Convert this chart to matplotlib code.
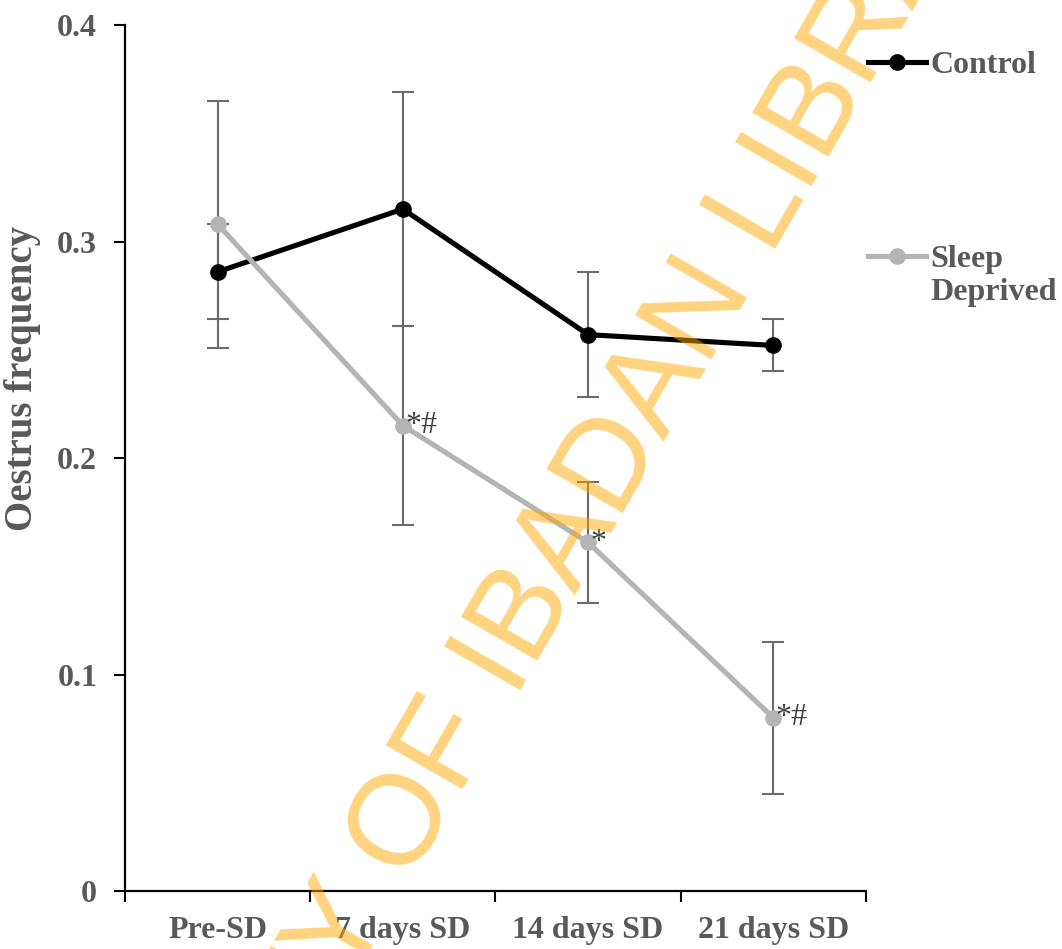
import matplotlib
matplotlib.use("Agg")
import matplotlib.pyplot as plt
import numpy as np

# oestrus frequency (mean +/- SEM) per period
periods = ["Pre-SD", "7 days SD", "14 days SD", "21 days SD"]
control_mean = [0.286, 0.315, 0.257, 0.252]
control_err = [0.022, 0.054, 0.029, 0.012]
sleep_mean = [0.308, 0.215, 0.161, 0.080]
sleep_err = [0.057, 0.046, 0.028, 0.035]
sleep_marks = ["", "*#", "*", "*#"]

y_ticks = [0, 0.1, 0.2, 0.3, 0.4]
y_tick_labels = ["0", "0.1", "0.2", "0.3", "0.4"]

serif = "Liberation Serif"
text_grey = "#595959"
bar_grey = "#6b6b6b"

plt.rcParams["font.family"] = serif

fig = plt.figure(figsize=(10.62, 9.49), dpi=100)
ax = fig.add_axes([0.1177, 0.0611, 0.6977, 0.9125])

x = np.arange(len(periods))

ax.errorbar(x, control_mean, yerr=control_err, fmt="none", ecolor=bar_grey,
            elinewidth=1.5, capsize=8, capthick=1.5, zorder=2)
ax.errorbar(x, sleep_mean, yerr=sleep_err, fmt="none", ecolor=bar_grey,
            elinewidth=1.5, capsize=8, capthick=1.5, zorder=2)

ctrl_line, = ax.plot(x, control_mean, color="black", lw=3.7, marker="o",
                     markersize=11, zorder=3, label="Control")
sleep_line, = ax.plot(x, sleep_mean, color="#b4b4b4", lw=3.7, marker="o",
                      markersize=11, zorder=4, label="Sleep")

for xi, yi, mark in zip(x, sleep_mean, sleep_marks):
    if mark:
        ax.annotate(mark, xy=(xi, yi), xytext=(1.5, 0), textcoords="offset points",
                    ha="left", va="center", fontsize=23, color="#404040",
                    family=serif, zorder=5)

ax.set_xlim(-0.5, 3.5)
ax.set_ylim(0, 0.4)

ax.set_xticks(np.arange(len(periods) + 1) - 0.5)
ax.set_xticklabels([])
ax.set_xticks(x, minor=True)
ax.set_xticklabels(periods, minor=True, fontsize=23, fontweight="bold", color=text_grey)
ax.tick_params(axis="x", which="major", direction="out", length=8, width=1.5)
ax.tick_params(axis="x", which="minor", length=0, pad=18)

ax.set_yticks(y_ticks)
ax.set_yticklabels(y_tick_labels, fontsize=23, fontweight="bold", color=text_grey)
ax.tick_params(axis="y", direction="out", length=8, width=1.5, pad=12)

for side in ["top", "right"]:
    ax.spines[side].set_visible(False)
for side in ["left", "bottom"]:
    ax.spines[side].set_linewidth(1.6)

ax.set_ylabel("Oestrus frequency", fontsize=28, fontweight="bold", color=text_grey)
ax.yaxis.set_label_coords(-0.113, 0.592)

leg = ax.legend(handles=[ctrl_line, sleep_line], loc="upper left",
                bbox_to_anchor=(1.003, 0.970), frameon=False, borderpad=0,
                borderaxespad=0, handlelength=1.8, handletextpad=0.15,
                labelspacing=5.15, prop={"family": serif, "weight": "bold", "size": 23})
for t in leg.get_texts():
    t.set_color(text_grey)
# second line of the "Sleep Deprived" entry, hung under the legend label
ax.annotate("Deprived", xy=(0, 0), xycoords=leg.get_texts()[1], xytext=(0, -3),
            textcoords="offset points", ha="left", va="top", fontsize=23,
            fontweight="bold", color=text_grey, family=serif,
            annotation_clip=False, zorder=6)

# library watermark across the figure
fig.text(0.4955, 0.282, "UNIVERSITY OF IBADAN LIBRARY", family="Liberation Sans",
         fontsize=92, color="#ffa800", alpha=0.5, rotation=60,
         rotation_mode="anchor", ha="center", va="baseline", zorder=10)

fig.savefig("out.png", dpi=100)
